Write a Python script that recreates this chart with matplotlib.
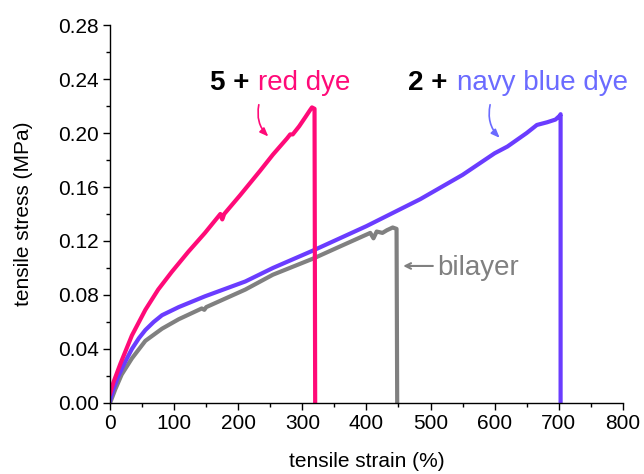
import matplotlib
matplotlib.use('Agg')
import matplotlib.pyplot as plt
from matplotlib.ticker import MultipleLocator

plt.rcParams['font.family'] = ['Liberation Sans', 'DejaVu Sans']

# 5 + red dye
red_strain = [0, 5, 16, 34, 55, 75, 96, 122, 148, 172, 175, 178, 203, 234, 254, 276, 281, 285, 295, 305, 312, 315, 319, 320]
red_stress = [0.007, 0.015, 0.029, 0.050, 0.069, 0.084, 0.097, 0.112, 0.126, 0.140, 0.136, 0.140, 0.154, 0.172, 0.184, 0.196, 0.199, 0.199, 0.205, 0.212, 0.217, 0.219, 0.218, 0.0]

# 2 + navy blue dye
blue_strain = [0, 5, 12, 23, 34, 45, 55, 68, 81, 107, 148, 211, 254, 317, 400, 484, 550, 600, 620, 650, 666, 682, 695, 702, 703, 703]
blue_stress = [0.002, 0.010, 0.019, 0.030, 0.040, 0.048, 0.054, 0.060, 0.065, 0.071, 0.079, 0.090, 0.100, 0.113, 0.131, 0.151, 0.169, 0.185, 0.190, 0.200, 0.206, 0.208, 0.210, 0.213, 0.214, 0.0]

# bilayer
gray_strain = [0, 8, 18, 34, 55, 81, 107, 143, 147, 150, 211, 254, 317, 359, 406, 411, 416, 425, 432, 441, 447, 448]
gray_stress = [0.0, 0.010, 0.021, 0.033, 0.046, 0.055, 0.062, 0.070, 0.069, 0.071, 0.084, 0.095, 0.107, 0.116, 0.126, 0.122, 0.127, 0.126, 0.128, 0.130, 0.129, 0.0]

red = '#ff0a78'
blue = '#6a3cff'
blue_txt = '#6b6bff'
gray = '#808080'

fig = plt.figure(figsize=(6.44, 4.74), dpi=100)
ax = fig.add_axes([0.171, 0.150, 0.796, 0.797])

ax.plot(gray_strain, gray_stress, color=gray, lw=3)
ax.plot(blue_strain, blue_stress, color=blue, lw=3)
ax.plot(red_strain, red_stress, color=red, lw=3)

ax.set_xlim(0, 800)
ax.set_ylim(0, 0.28)
ax.xaxis.set_major_locator(MultipleLocator(100))
ax.xaxis.set_minor_locator(MultipleLocator(50))
ax.yaxis.set_major_locator(MultipleLocator(0.04))
ax.yaxis.set_minor_locator(MultipleLocator(0.02))
ax.yaxis.set_major_formatter(plt.FormatStrFormatter('%.2f'))
for s in ['top', 'right']:
    ax.spines[s].set_visible(False)
for s in ['left', 'bottom']:
    ax.spines[s].set_linewidth(1.0)
ax.tick_params(which='major', direction='out', length=5, width=1, labelsize=15, pad=3)
ax.tick_params(which='minor', direction='out', length=3, width=1)

ax.set_xlabel('tensile strain (%)', fontsize=15, labelpad=14)
ax.set_ylabel('tensile stress (MPa)', fontsize=15, labelpad=18)

# labels
ax.text(217, 0.232, '5 +', fontsize=20, fontweight='bold', color='black', ha='right', va='baseline')
ax.text(231, 0.232, 'red dye', fontsize=20, color=red, ha='left', va='baseline')
ax.text(527, 0.232, '2 +', fontsize=20, fontweight='bold', color='black', ha='right', va='baseline', clip_on=False)
ax.text(542, 0.232, 'navy blue dye', fontsize=20, color=blue_txt, ha='left', va='baseline', clip_on=False)
ax.text(511, 0.100, 'bilayer', fontsize=20, color=gray, ha='left', va='center')

ax.annotate('', xy=(250, 0.196), xytext=(233, 0.223),
            arrowprops=dict(arrowstyle='-|>,head_length=0.5,head_width=0.2', color=red, lw=1.2,
                            connectionstyle='arc3,rad=0.3'))
ax.annotate('', xy=(611, 0.195), xytext=(594, 0.223),
            arrowprops=dict(arrowstyle='-|>,head_length=0.5,head_width=0.2', color=blue_txt, lw=1.2,
                            connectionstyle='arc3,rad=0.3'))
ax.annotate('', xy=(453, 0.1015), xytext=(508, 0.1015),
            arrowprops=dict(arrowstyle='->,head_length=0.4,head_width=0.2', color=gray, lw=1.5))

fig.savefig('out.png', dpi=100)
